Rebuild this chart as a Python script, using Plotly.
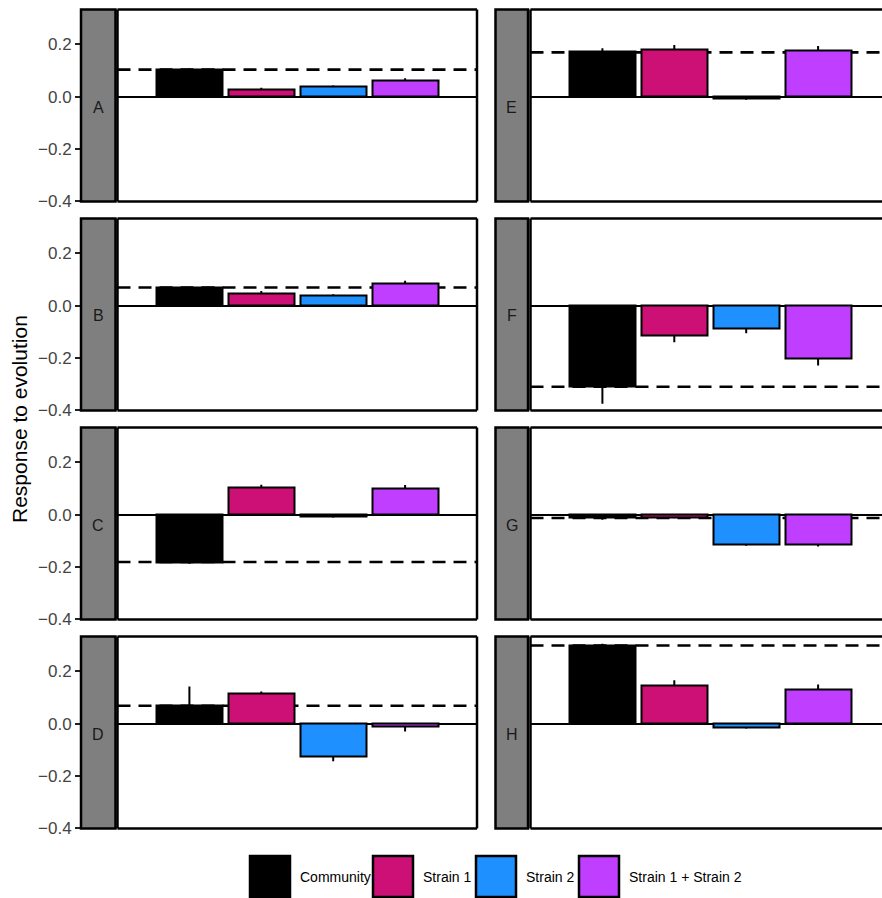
import plotly.graph_objects as go

# ---------------- data ----------------
panels = ["A", "B", "C", "D", "E", "F", "G", "H"]
series = ["Community", "Strain 1", "Strain 2", "Strain 1 + Strain 2"]

community = [0.104, 0.070, -0.182, 0.070, 0.173, -0.310, -0.010, 0.300]
strain1 = [0.026, 0.047, 0.102, 0.115, 0.178, -0.115, -0.010, 0.146]
strain2 = [0.038, 0.037, -0.008, -0.127, -0.008, -0.089, -0.115, -0.016]
strain12 = [0.061, 0.083, 0.098, -0.010, 0.176, -0.203, -0.115, 0.130]

community_err = [0.003, 0.002, 0.006, 0.072, 0.012, 0.065, 0.010, 0.005]
strain1_err = [0.008, 0.009, 0.012, 0.008, 0.019, 0.025, 0.004, 0.019]
strain2_err = [0.004, 0.006, 0.003, 0.017, 0.004, 0.017, 0.004, 0.003]
strain12_err = [0.009, 0.012, 0.015, 0.020, 0.017, 0.026, 0.007, 0.019]

dashed_ref = [0.103, 0.069, -0.181, 0.068, 0.169, -0.310, -0.013, 0.298]

tick_vals = [-0.4, -0.2, 0.0, 0.2]
tick_text = ["\u22120.4", "\u22120.2", "0.0", "0.2"]

colors = ["#000000", "#CD1076", "#1E90FF", "#BF3EFF"]

# ---------------- layout geometry (pixels) ----------------
W, H = 882, 898
def px(x):
    return x / W
def py(y):
    return 1 - y / H

rows = [(9.5, 201.5), (218.5, 410.5), (427.5, 619.5), (636.5, 828.5)]
cols = [
    dict(strip=(81, 115.5), plot=(117.5, 477.0), right=True),
    dict(strip=(495.5, 528.0), plot=(530.5, 882.0), right=False),
]
unit = (477.0 - 117.5) / 5.0
yrange = [-0.4005, 0.3325]

fig = go.Figure()
shapes = []
annotations = []

values = [community, strain1, strain2, strain12]
errors = [community_err, strain1_err, strain2_err, strain12_err]

def pline(x0, y0, x1, y1, w=2.5):
    return dict(type="line", xref="paper", yref="paper",
                x0=px(x0), y0=py(y0), x1=px(x1), y1=py(y1),
                line=dict(color="black", width=w), layer="above")

for p, name in enumerate(panels):
    c = p // 4
    r = p % 4
    n = p + 1
    xa = "x" if n == 1 else f"x{n}"
    ya = "y" if n == 1 else f"y{n}"
    vals = [v[p] for v in values]
    errs = [e[p] for e in errors]
    up = [e if v >= 0 else 0 for v, e in zip(vals, errs)]
    down = [e if v < 0 else 0 for v, e in zip(vals, errs)]
    fig.add_trace(go.Bar(
        x=series, y=vals, xaxis=xa, yaxis=ya, width=0.92,
        marker=dict(color=colors, line=dict(color="black", width=2)),
        error_y=dict(type="data", symmetric=False, array=up, arrayminus=down,
                     thickness=2, width=0, color="black"),
        showlegend=False, hoverinfo="x+y",
    ))
    top, bot = rows[r]
    sx0, sx1 = cols[c]["strip"]
    qx0, qx1 = cols[c]["plot"]
    xr = [-1, -1 + (qx1 - qx0) / unit]
    xkey = "xaxis" if n == 1 else f"xaxis{n}"
    ykey = "yaxis" if n == 1 else f"yaxis{n}"
    fig.layout[xkey] = dict(
        domain=[px(qx0), px(qx1)], anchor=ya, range=xr,
        showticklabels=False, ticks="", showline=False, showgrid=False,
        zeroline=False, fixedrange=True, type="category", automargin=False,
    )
    ydict = dict(
        domain=[py(bot), py(top)], range=yrange, showgrid=False,
        zeroline=True, zerolinecolor="black", zerolinewidth=2,
        showline=False, fixedrange=True, automargin=False,
    )
    if c == 0:
        ydict.update(anchor="free", position=px(sx0), tickmode="array",
                     tickvals=tick_vals, ticktext=tick_text, ticks="outside",
                     ticklen=6, tickwidth=2, tickcolor="#222222",
                     tickfont=dict(family="Liberation Sans", size=17, color="#444444"))
    else:
        ydict.update(anchor=xa, showticklabels=False, ticks="")
    fig.layout[ykey] = ydict

    # dashed reference line
    shapes.append(dict(type="line", xref=f"{xa} domain", x0=0, x1=1,
                       yref=ya, y0=dashed_ref[p], y1=dashed_ref[p],
                       line=dict(color="black", width=2.6, dash="13px,8px"),
                       layer="below"))
    # strip
    shapes.append(dict(type="rect", xref="paper", yref="paper",
                       x0=px(sx0), x1=px(sx1), y0=py(bot), y1=py(top),
                       fillcolor="#7F7F7F", line=dict(color="black", width=2.5),
                       layer="above"))
    # panel border
    shapes.append(pline(qx0, top, qx1, top))
    shapes.append(pline(qx0, bot, qx1, bot))
    shapes.append(pline(qx0, top, qx0, bot))
    if cols[c]["right"]:
        shapes.append(pline(qx1, top, qx1, bot))
    annotations.append(dict(text=name, xref="paper", yref="paper",
                            x=px((sx0 + sx1) / 2), y=py((top + bot) / 2 + 1.5),
                            showarrow=False, xanchor="center", yanchor="middle",
                            font=dict(family="Liberation Sans", size=16, color="#1A1A1A")))

# y-axis title
annotations.append(dict(text="Response to evolution", xref="paper", yref="paper",
                        x=px(20), y=py(419), textangle=-90, showarrow=False,
                        xanchor="center", yanchor="middle",
                        font=dict(family="Liberation Sans", size=21, color="black")))

# legend (manual keys)
key_x = [250, 373, 476, 579]
key_w = 40
key_top, key_bot = 856, 897
for i, s in enumerate(series):
    shapes.append(dict(type="rect", xref="paper", yref="paper",
                       x0=px(key_x[i]), x1=px(key_x[i] + key_w),
                       y0=py(key_bot), y1=py(key_top),
                       fillcolor=colors[i], line=dict(color="black", width=2.5),
                       layer="above"))
    annotations.append(dict(text=s, xref="paper", yref="paper",
                            x=px(key_x[i] + key_w + 8), y=py(877),
                            showarrow=False, xanchor="left", yanchor="middle",
                            font=dict(family="Liberation Sans", size=14, color="black")))

fig.update_layout(
    width=W, height=H,
    margin=dict(l=0, r=0, t=0, b=0, pad=0, autoexpand=False),
    paper_bgcolor="white", plot_bgcolor="rgba(0,0,0,0)",
    shapes=shapes, annotations=annotations, showlegend=False,
    bargap=0, font=dict(family="Liberation Sans"),
)

fig.write_html("out.html")
